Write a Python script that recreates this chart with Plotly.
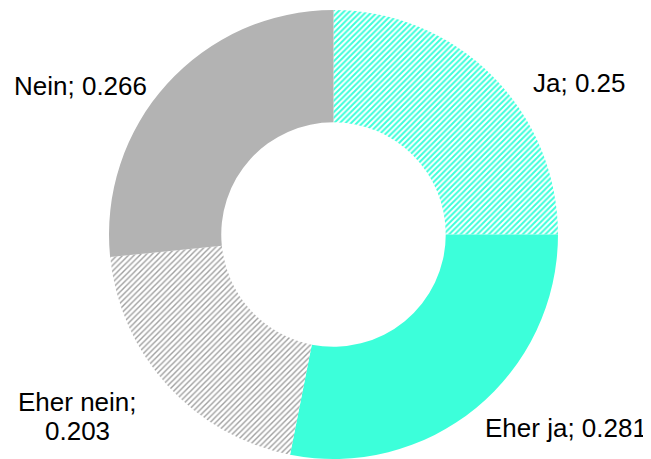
import plotly.graph_objects as go

labels = ["Ja", "Eher ja", "Eher nein", "Nein"]
values = [0.25, 0.281, 0.203, 0.266]
label_texts = ["Ja; 0.25", "Eher ja; 0.281", "Eher nein;<br>0.203", "Nein; 0.266"]

colors = ["#3CFFDA", "#3CFFDA", "#A0A0A0", "#B3B3B3"]
shapes = ["/", "", "/", ""]
bgcolors = ["white", "#3CFFDA", "white", "#B3B3B3"]
solidities = [0.5, 0.5, 0.35, 0.5]

# The page body has an 8px margin, so the figure is drawn 8px smaller
# and all positions are given relative to the figure's own top-left.
OFF = 8
W, H = 651 - OFF, 459 - OFF
cx, r = 333.5 - OFF, 230

fig = go.Figure()
fig.add_trace(go.Pie(
    labels=labels,
    values=values,
    sort=False,
    direction="clockwise",
    rotation=0,
    hole=0.5,
    textinfo="none",
    hoverinfo="label+value",
    marker=dict(
        colors=colors,
        line=dict(width=0),
        pattern=dict(shape=shapes, size=4, solidity=solidities,
                     fgcolor=colors, bgcolor=bgcolors, fillmode="replace"),
    ),
    domain=dict(x=[(cx - r) / W, (cx + r) / W], y=[0, 1]),
    showlegend=False,
))

# label centres (first line) in reference-page pixels
label_pos = [(579.5, 81), (566, 428), (77.5, 402), (80, 84)]
line_gap = 29
for t, (px, py) in zip(label_texts, label_pos):
    for i, line in enumerate(t.split("<br>")):
        fig.add_annotation(
            x=(px - OFF) / W, y=1 - (py + i * line_gap - OFF) / H,
            xref="paper", yref="paper",
            text=line, showarrow=False, xanchor="center", yanchor="middle",
            font=dict(family="Liberation Sans, Arial, sans-serif", size=26, color="#000000"),
        )

fig.update_layout(
    width=W, height=H,
    margin=dict(l=0, r=0, t=2, b=0),
    paper_bgcolor="white",
    plot_bgcolor="white",
)

fig.write_html("out.html")
